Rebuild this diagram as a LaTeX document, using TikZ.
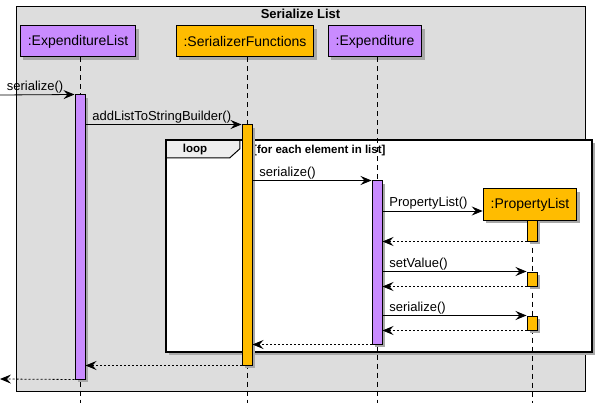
\documentclass[tikz,border=0pt]{standalone}
\usepackage{fontspec}
\setmainfont{Liberation Sans}
\usetikzlibrary{arrows.meta,positioning}
\definecolor{actorPurple}{HTML}{C98BFF}
\definecolor{actorOrange}{HTML}{FFBC00}
\definecolor{frameGrey}{HTML}{DDDDDD}
\definecolor{tabGrey}{HTML}{EEEEEE}
\definecolor{shadowGrey}{HTML}{A8A8A8}

\begin{document}
\begin{tikzpicture}[x=1pt, y=-1pt,
    softshadow/.style = {preaction={fill=shadowGrey, draw=none, transform canvas={shift={(3pt,-3pt)}}}},
    participant/.style = {draw, line width=1pt, font=\fontsize{14}{16}\selectfont, inner xsep=7.5pt, minimum height=31pt, softshadow},
    activation/.style = {draw, line width=1pt, inner sep=0pt, minimum width=10pt, softshadow},
    lifeline/.style = {dash pattern=on 5pt off 4pt, line width=0.8pt},
    msg/.style = {line width=0.8pt, -{Stealth[length=11pt, width=9pt, inset=4pt]}},
    reply/.style = {msg, dash pattern=on 2pt off 2pt},
    msglabel/.style = {anchor=base west, inner sep=0pt, xshift=6.5pt, yshift=4pt, font=\fontsize{13}{15}\selectfont},
    boldlabel/.style = {inner sep=0pt, font=\bfseries\fontsize{11.5}{13}\selectfont},
  ]
    \useasboundingbox (0,0) rectangle (604,403);

    \node (frame) [draw, fill=frameGrey, line width=0.8pt, minimum width=569pt, minimum height=385pt, inner sep=0pt] at (300.5,198.5) {};
    \node (title) [below=3pt of frame.north, inner sep=0pt, font=\bfseries\fontsize{13}{15}\selectfont] {Serialize List};

    \node (loopFrame) [fill=white, minimum width=426pt, minimum height=212pt, inner sep=0pt, softshadow] at (379,246) {};
    \draw[fill=tabGrey, line width=1pt] (loopFrame.north west) -- ++(74,0) -- ++(0,9) -- ++(-10,9) -- ++(-64,0) -- cycle;
    \draw[line width=2pt] (loopFrame.north west) rectangle (loopFrame.south east);
    \node (loopTag) [boldlabel, anchor=base] at (195,153) {loop};
    \node (loopGuard) [boldlabel, anchor=base west] at (253,153.5) {[for each element in list]};

    \node (elBox) [participant, fill=actorPurple] at (78,41.5) {:ExpenditureList};
    \node (sfBox) [participant, fill=actorOrange] at (245,41.5) {:SerializerFunctions};
    \node (exBox) [participant, fill=actorPurple] at (375,41.5) {:Expenditure};
    \node (plBox) [participant, fill=actorOrange] at (530,204.5) {:PropertyList};

    \coordinate (caller) at (0,95);
    \coordinate (exit) at (0,379);
    \coordinate (bottom) at (0,403);

    \draw[lifeline] ([xshift=2pt]elBox.south) -- ([xshift=2pt]elBox.south |- bottom);
    \draw[lifeline] ([xshift=2pt]sfBox.south) -- ([xshift=2pt]sfBox.south |- bottom);
    \draw[lifeline] ([xshift=2pt]exBox.south) -- ([xshift=2pt]exBox.south |- bottom);
    \draw[lifeline] ([xshift=2pt]plBox.south) -- ([xshift=2pt]plBox.south |- bottom);

    \node (elAct) [activation, fill=actorPurple, minimum height=284pt] at (80,237) {};
    \node (sfAct) [activation, fill=actorOrange, minimum height=240pt] at (247,245) {};
    \node (exAct) [activation, fill=actorPurple, minimum height=163pt] at (377,262.5) {};
    \node (plAct1) [activation, fill=actorOrange, minimum height=21pt] at (532,230.5) {};
    \node (plAct2) [activation, fill=actorOrange, minimum height=14pt] at (532,279) {};
    \node (plAct3) [activation, fill=actorOrange, minimum height=14pt] at (532,323) {};

    \draw[msg] (caller) -- node[msglabel, pos=0] {serialize()} (elAct.north west);
    \draw[msg] (elAct.east |- sfAct.north) -- node[msglabel, pos=0] {addListToStringBuilder()} (sfAct.north west);
    \draw[msg] (sfAct.east |- exAct.north) -- node[msglabel, pos=0] {serialize()} (exAct.north west);
    \draw[msg] (exAct.east |- 0,211) -- node[msglabel, pos=0] {PropertyList()} (plBox.west |- 0,211);
    \draw[reply] (plAct1.south west) -- (exAct.east |- plAct1.south);
    \draw[msg] (exAct.east |- plAct2.north) -- node[msglabel, pos=0] {setValue()} (plAct2.north west);
    \draw[reply] (plAct2.south west) -- (exAct.east |- plAct2.south);
    \draw[msg] (exAct.east |- plAct3.north) -- node[msglabel, pos=0] {serialize()} (plAct3.north west);
    \draw[reply] (plAct3.south west) -- (exAct.east |- plAct3.south);
    \draw[reply] (exAct.south west) -- (sfAct.east |- exAct.south);
    \draw[reply] (sfAct.south west) -- (elAct.east |- sfAct.south);
    \draw[reply] (elAct.south west) -- (exit);
\end{tikzpicture}
\end{document}
